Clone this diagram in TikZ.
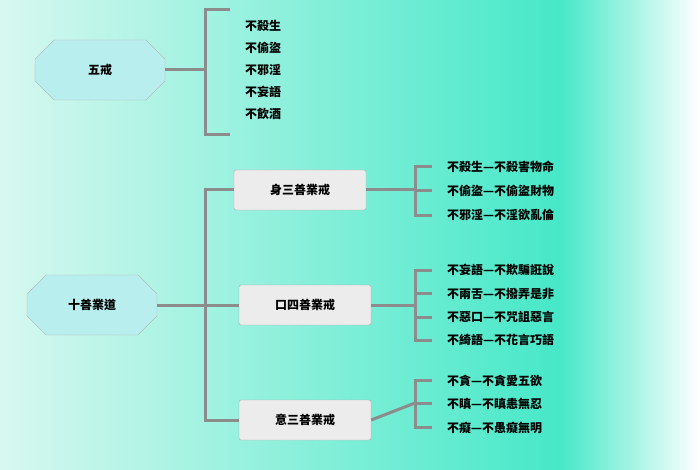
\documentclass[tikz,border=0pt]{standalone}
\usepackage{fontspec}
\newfontfamily\cjk{Noto Sans CJK TC}
\usetikzlibrary{shapes.misc}
\usetikzlibrary{calc}
\definecolor{teal1}{RGB}{70,232,200}
\definecolor{pale}{RGB}{215,248,240}
\definecolor{octfill}{RGB}{185,238,238}
\definecolor{boxfill}{RGB}{236,236,236}
\definecolor{linegray}{RGB}{140,140,140}

\tikzset{
  oct/.style={chamfered rectangle, chamfered rectangle xsep=16pt,
    chamfered rectangle ysep=10pt, draw=gray!60, fill=octfill,
    minimum width=130pt, minimum height=60pt, font=\cjk\bfseries\large},
  rule/.style={rectangle, draw=gray!70, fill=boxfill, rounded corners=2pt,
    minimum width=132pt, minimum height=40pt, font=\cjk\bfseries\large},
  link/.style={linegray, line width=3pt},
  item/.style={anchor=west, font=\cjk\bfseries\large, inner sep=0pt},
}

\begin{document}
\begin{tikzpicture}[x=1pt,y=-1pt]

        % Background
        \shade[left color=pale, right color=teal1] (0,0) rectangle (560,470);
        \shade[left color=teal1, right color=white] (560,0) rectangle (700,470);
        \useasboundingbox (0,0) rectangle (700,470);

        % Five precepts
        \node[oct] (five) at (100,70) {五戒};
        \coordinate (fb) at (205,70);
        \draw[link] (five.east) -- (fb);
        \draw[link] (230,10) -- (205,10) -- (205,135) -- (230,135);
        \foreach \t [count=\i] in {不殺生,不偷盜,不邪淫,不妄語,不飲酒}
        {
          \node[item] (p\i) at (245,{4+22*\i}) {\t};
        }

        % Ten good deeds
        \node[oct] (ten) at (92,305) {十善業道};
        \node[rule] (body) at (300,190) {身三善業戒};
        \node[rule] (mouth) at (305,305) {口四善業戒};
        \node[rule] (mind) at (305,420) {意三善業戒};
        \coordinate (tb) at (205,305);
        \draw[link] (ten.east) -- (mouth.west);
        \draw[link] (body.west) -| (tb) |- (mind.west);

        % Body
        \draw[link] (body.east) -- (415,190);
        \draw[link] (432,167) -- (415,167) -- (415,215) -- (432,215);
        \draw[link] (415,191) -- (432,191);
        \foreach \t [count=\i] in {不殺生—不殺害物命,不偷盜—不偷盜財物,不邪淫—不淫欲亂倫}
        {
          \node[item] (b\i) at (447,{143+24*\i}) {\t};
        }

        % Mouth
        \draw[link] (mouth.east) -- (415,305);
        \draw[link] (432,270) -- (415,270) -- (415,340) -- (432,340);
        \draw[link] (415,293) -- (432,293);
        \draw[link] (415,317) -- (432,317);
        \foreach \t [count=\i] in {不妄語—不欺騙誑說,不兩舌—不撥弄是非,不惡口—不咒詛惡言,不綺語—不花言巧語}
        {
          \node[item] (m\i) at (447,{247+23.3*\i}) {\t};
        }

        % Mind
        \draw[link] (mind.east) -- (415,403);
        \draw[link] (432,380) -- (415,380) -- (415,427) -- (432,427);
        \draw[link] (415,403) -- (432,403);
        \foreach \t [count=\i] in {不貪—不貪愛五欲,不瞋—不瞋恚無忍,不癡—不愚癡無明}
        {
          \node[item] (d\i) at (447,{357+23.5*\i}) {\t};
        }
    \end{tikzpicture}
\end{document}
